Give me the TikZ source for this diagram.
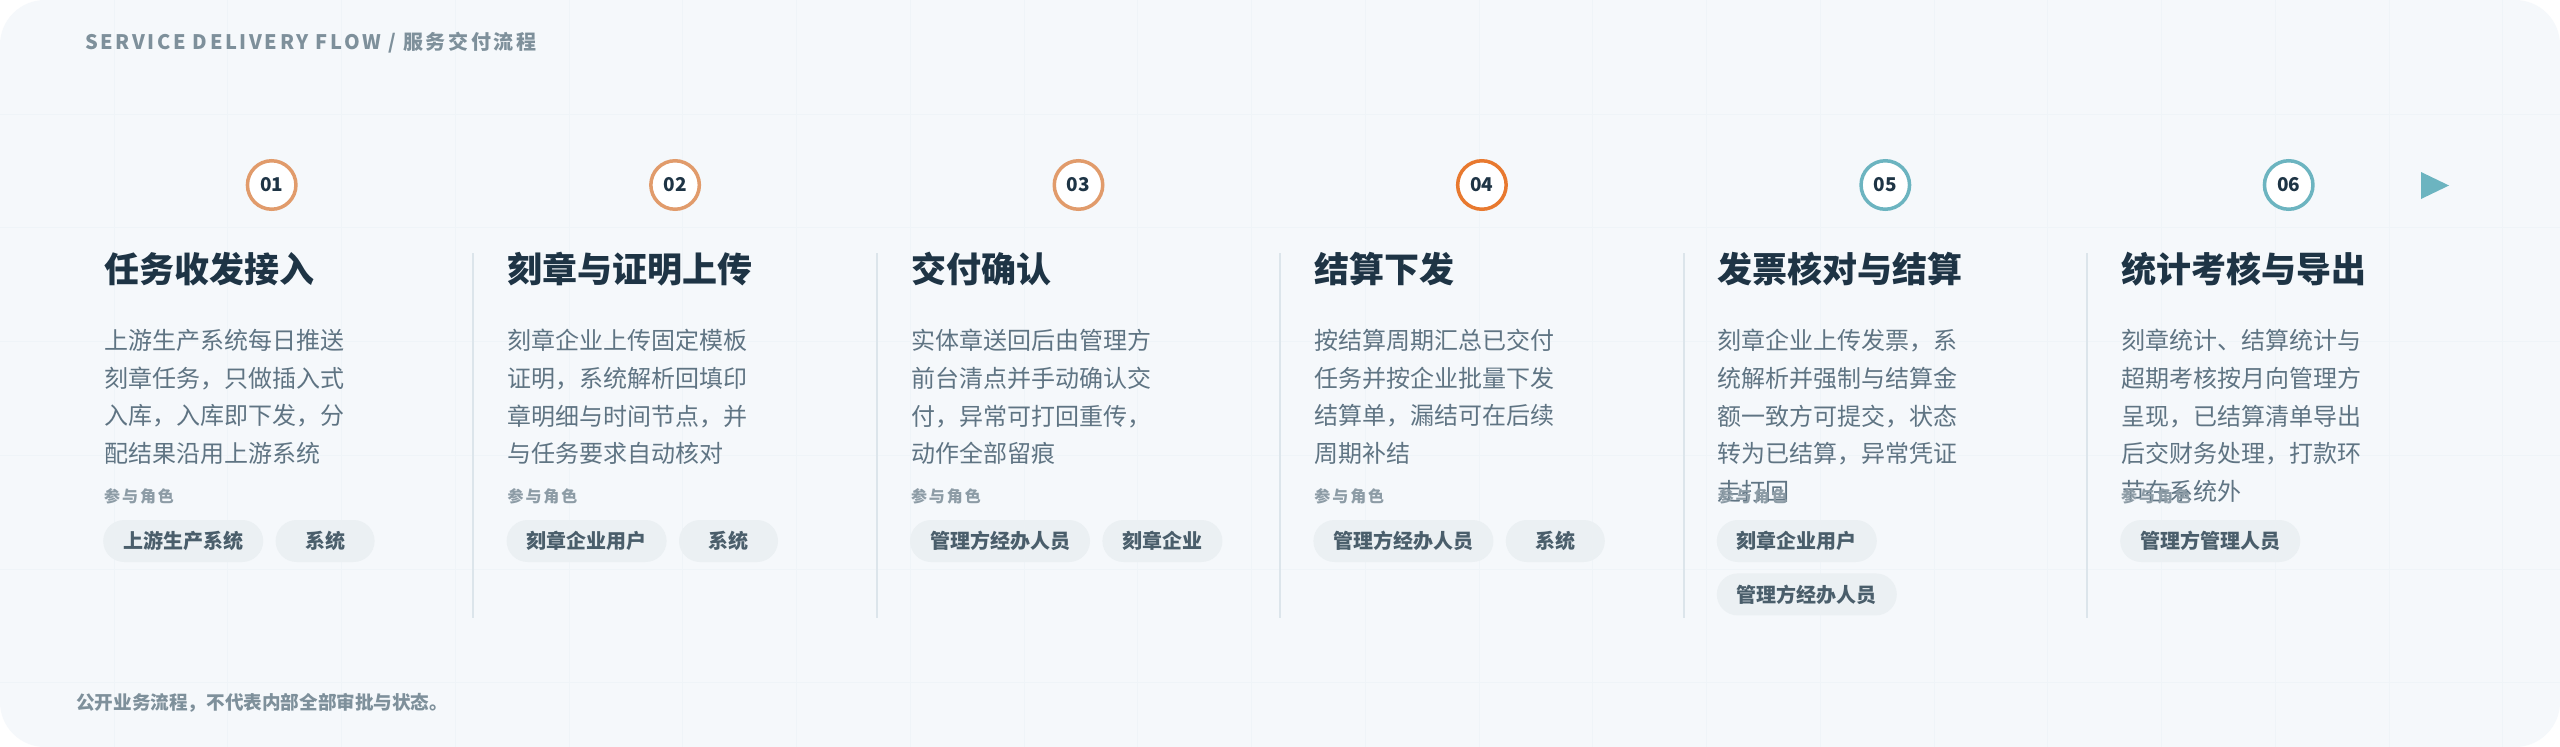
\documentclass[tikz,border=0pt]{standalone}
\usepackage{fontspec}
\setmainfont{Noto Sans CJK SC}
\usetikzlibrary{positioning}
\definecolor{pagebg}{HTML}{F5F8FB}
\definecolor{gridln}{HTML}{EFF4F8}
\definecolor{ink}{HTML}{1E3445}
\definecolor{bodygray}{HTML}{5F7483}
\definecolor{labelgray}{HTML}{8D9CA6}
\definecolor{chipfill}{HTML}{EBF0F3}
\definecolor{chiptext}{HTML}{4A5E6B}
\definecolor{sepline}{HTML}{DCE5EB}
\definecolor{ringsoft}{HTML}{E19B6B}
\definecolor{ringhot}{HTML}{E8792F}
\definecolor{ringteal}{HTML}{6CB4C0}
\definecolor{headgray}{HTML}{7E909B}
\begin{document}
\begin{tikzpicture}[x=1pt,y=-1pt,
 stepnum/.style={shape=circle,draw=#1,line width=3.5pt,fill=white,minimum size=48.5pt,inner sep=0pt,text=ink,font=\bfseries\fontsize{19}{19}\selectfont},
 steptitle/.style={anchor=base west,inner sep=0pt,text=ink,font=\bfseries\fontsize{35}{35}\selectfont},
 steptext/.style={anchor=north west,inner sep=0pt,align=left,text=bodygray,font=\fontsize{24}{37.7}\selectfont},
 rolelabel/.style={anchor=base west,inner sep=0pt,text=labelgray,font=\bfseries\fontsize{16}{16}\selectfont\addfontfeature{LetterSpace=12}},
 chip/.style={shape=rectangle,rounded corners=21pt,fill=chipfill,minimum height=42pt,minimum width=99pt,inner xsep=20pt,inner ysep=0pt,text=chiptext,font=\bfseries\fontsize{20}{20}\selectfont},
 sep/.style={draw=sepline,line width=2pt}]
 \useasboundingbox (0,0) rectangle (2560,747);
 % panel
 \fill[white] (0,0) rectangle (2560,747);
 \fill[pagebg,rounded corners=45pt] (0,0) rectangle (2560,747);
 \begin{scope}
 \clip[rounded corners=45pt] (0,0) rectangle (2560,747);
 \foreach \k in {1,...,22} \draw[gridln] (\k*113.75,0) -- (\k*113.75,747);
 \foreach \k in {1,...,6} \draw[gridln] (0,\k*113.75) -- (2560,\k*113.75);
 \end{scope}
 \node (head) at (85,43) [anchor=west,inner sep=0pt,text=headgray,font=\bfseries\fontsize{20}{20}\selectfont\addfontfeature{LetterSpace=13}] {SERVICE DELIVERY FLOW / 服务交付流程};
 % rings
 \node (ring 1) at (271.7,185) [stepnum=ringsoft] {01};
 \node (ring 2) at (675.1,185) [stepnum=ringsoft] {02};
 \node (ring 3) at (1078.5,185) [stepnum=ringsoft] {03};
 \node (ring 4) at (1481.9,185) [stepnum=ringhot] {04};
 \node (ring 5) at (1885.3,185) [stepnum=ringteal] {05};
 \node (ring 6) at (2288.7,185) [stepnum=ringteal] {06};
 \fill[ringteal] (2421,172) -- (2449,185.5) -- (2421,199) -- cycle;
 % column rules
 \draw[sep] (473.4,253) -- (473.4,618);
 \draw[sep] (876.8,253) -- (876.8,618);
 \draw[sep] (1280.2,253) -- (1280.2,618);
 \draw[sep] (1683.6,253) -- (1683.6,618);
 \draw[sep] (2087,253) -- (2087,618);
 % titles
 \node (title 1) at (104,282) [steptitle] {任务收发接入};
 \node (title 2) at (507.4,282) [steptitle] {刻章与证明上传};
 \node (title 3) at (910.8,282) [steptitle] {交付确认};
 \node (title 4) at (1314.2,282) [steptitle] {结算下发};
 \node (title 5) at (1717.6,282) [steptitle] {发票核对与结算};
 \node (title 6) at (2121,282) [steptitle] {统计考核与导出};
 % texts
 \node (text 1) at (104,329) [steptext] {上游生产系统每日推送\\刻章任务，只做插入式\\入库，入库即下发，分\\配结果沿用上游系统};
 \node (text 2) at (507.4,329) [steptext] {刻章企业上传固定模板\\证明，系统解析回填印\\章明细与时间节点，并\\与任务要求自动核对};
 \node (text 3) at (910.8,329) [steptext] {实体章送回后由管理方\\前台清点并手动确认交\\付，异常可打回重传，\\动作全部留痕};
 \node (text 4) at (1314.2,329) [steptext] {按结算周期汇总已交付\\任务并按企业批量下发\\结算单，漏结可在后续\\周期补结};
 \node (text 5) at (1717.6,329) [steptext] {刻章企业上传发票，系\\统解析并强制与结算金\\额一致方可提交，状态\\转为已结算，异常凭证\\走打回};
 \node (text 6) at (2121,329) [steptext] {刻章统计、结算统计与\\超期考核按月向管理方\\呈现，已结算清单导出\\后交财务处理，打款环\\节在系统外};
 % roles
 \node (role 1) at (104,502) [rolelabel] {参与角色};
 \node (role 2) at (507.4,502) [rolelabel] {参与角色};
 \node (role 3) at (910.8,502) [rolelabel] {参与角色};
 \node (role 4) at (1314.2,502) [rolelabel] {参与角色};
 \node (role 5) at (1717.6,502) [rolelabel] {参与角色};
 \node (role 6) at (2121,502) [rolelabel] {参与角色};
 \node (chip 1a) at (103,541) [chip,anchor=west] {上游生产系统};
 \node (chip 1b) [chip,right=12pt of chip 1a] {系统};
 \node (chip 2a) at (506.4,541) [chip,anchor=west] {刻章企业用户};
 \node (chip 2b) [chip,right=12pt of chip 2a] {系统};
 \node (chip 3a) at (909.8,541) [chip,anchor=west] {管理方经办人员};
 \node (chip 3b) [chip,right=12pt of chip 3a] {刻章企业};
 \node (chip 4a) at (1313.2,541) [chip,anchor=west] {管理方经办人员};
 \node (chip 4b) [chip,right=12pt of chip 4a] {系统};
 \node (chip 5a) at (1716.6,541) [chip,anchor=west] {刻章企业用户};
 \node (chip 5b) [chip,anchor=north west,below right=11pt and 0pt of chip 5a.south west] {管理方经办人员};
 \node (chip 6a) at (2120,541) [chip,anchor=west] {管理方管理人员};
 % note
 \node (note) at (76,703) [anchor=west,inner sep=0pt,text=headgray,font=\bfseries\fontsize{18.6}{18.6}\selectfont] {公开业务流程，不代表内部全部审批与状态。};
\end{tikzpicture}
\end{document}
